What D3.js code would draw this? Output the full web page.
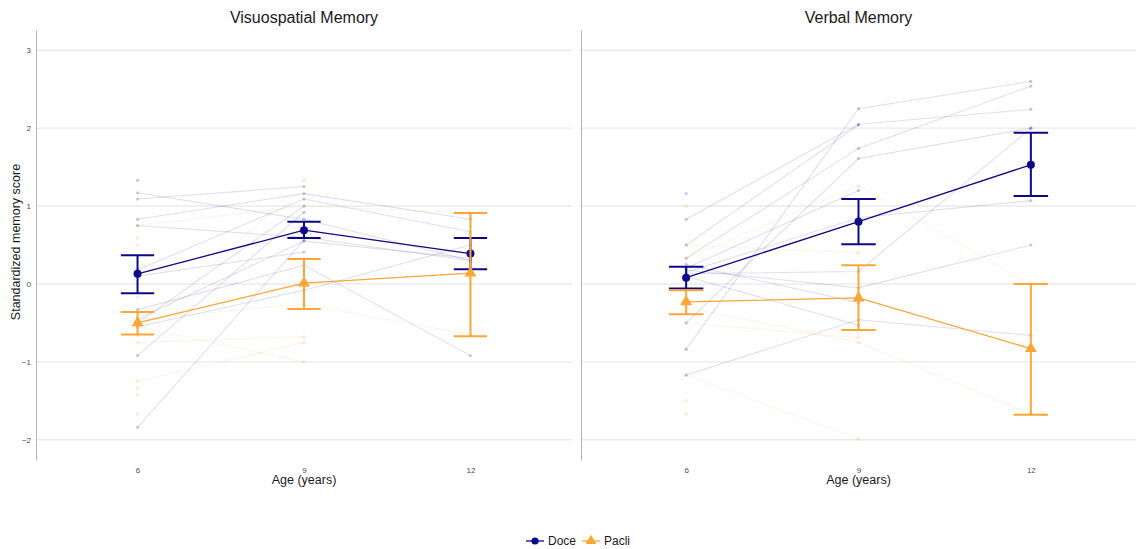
<!DOCTYPE html>
<meta charset="utf-8">
<html>
  <style>
    body { margin: 0; background: #fff; }
    text { font-family: "Liberation Sans", Arial, sans-serif; }
    .grid line { stroke: #ebebeb; stroke-width: 1.4px; }
  </style>
  <head>
    <script src="https://d3js.org/d3.v7.min.js"></script>
  </head>
  <body>
    <script>
      // ages and panel titles
      var ages = [6, 9, 12];
      var panelTitles = ["Visuospatial Memory", "Verbal Memory"];
      var yTicks = [-2, -1, 0, 1, 2, 3];
      var groups = ["Doce", "Pacli"];

      // individual subjects, value at 6, 9, 12 (null = missing)
      var visDoce = [
        [1.33, null, null], [1.17, 0.83, 0.3], [1.09, 1.25, null], [0.83, 1.16, 0.83],
        [0.75, 0.6, 0.3], [0.18, 1.09, 0.67], [0.1, 0.41, null], [-0.33, 0.24, -0.92],
        [-0.5, 1.0, null], [-0.45, 0.55, 0.33], [-0.55, -0.08, 0.5], [-0.92, 0.92, null],
        [-1.84, 0.56, null]
      ];
      var visPacli = [
        [0.59, null, null], [0.5, null, null], [0.75, 1.0, 0.91], [-0.17, null, null],
        [-0.45, -0.26, -0.65], [-0.66, 1.33, null], [-0.75, -0.68, null], [-0.55, -1.0, null],
        [-1.25, -0.75, null], [-1.34, null, null], [-1.42, null, null], [-1.67, null, null]
      ];
      var verbDoce = [
        [1.16, null, null], [0.83, 2.05, 2.24], [0.5, 2.04, null], [0.33, 1.74, 2.54],
        [-0.84, 2.25, 2.6], [-0.5, 1.61, 2.0], [0.2, 1.2, null], [0.15, 0.85, 1.07],
        [0.13, 0.16, 2.0], [0.18, -0.05, 0.5], [0.1, -0.53, null], [-1.17, -0.46, -0.66],
        [0.25, -0.24, null]
      ];
      var verbPacli = [
        [1.0, null, null], [0.5, 0.4, null], [0.33, 1.26, 0.0], [-0.3, -0.75, -1.67],
        [-1.17, -1.99, null], [-0.5, -0.69, null], [-0.84, null, null], [-1.5, null, null],
        [-1.67, null, null]
      ];

      // group means and error bar limits
      var visDoceMean = [0.13, 0.69, 0.39], visDoceLow = [-0.12, 0.59, 0.19], visDoceHigh = [0.37, 0.80, 0.59];
      var visPacliMean = [-0.5, 0.01, 0.14], visPacliLow = [-0.65, -0.32, -0.67], visPacliHigh = [-0.36, 0.32, 0.91];
      var verbDoceMean = [0.08, 0.8, 1.53], verbDoceLow = [-0.06, 0.51, 1.13], verbDoceHigh = [0.22, 1.09, 1.94];
      var verbPacliMean = [-0.23, -0.18, -0.83], verbPacliLow = [-0.39, -0.59, -1.68], verbPacliHigh = [-0.08, 0.24, 0.0];

      var colors = {Doce: "#0d0887", Pacli: "#fca636"};

      var width = 1138, height = 549;
      var svg = d3.select("body").append("svg")
          .attr("width", width)
          .attr("height", height);

      var y = d3.scaleLinear().domain([-2.26, 3.26]).range([460, 30]);
      var ranges = [[36, 572], [581, 1136]];

      var panels = [
        {title: panelTitles[0], subj: {Doce: visDoce, Pacli: visPacli},
         mean: {Doce: visDoceMean, Pacli: visPacliMean}, low: {Doce: visDoceLow, Pacli: visPacliLow},
         high: {Doce: visDoceHigh, Pacli: visPacliHigh}},
        {title: panelTitles[1], subj: {Doce: verbDoce, Pacli: verbPacli},
         mean: {Doce: verbDoceMean, Pacli: verbPacliMean}, low: {Doce: verbDoceLow, Pacli: verbPacliLow},
         high: {Doce: verbDoceHigh, Pacli: verbPacliHigh}}
      ];

      var tri = d3.symbol().type(d3.symbolTriangle);

      panels.forEach(function(p, i) {
        var x = d3.scaleLinear().domain([4.17, 13.83]).range(ranges[i]);
        var g = svg.append("g");

        // gridlines
        g.append("g").attr("class", "grid")
          .selectAll("line").data(yTicks).enter().append("line")
          .attr("x1", ranges[i][0]).attr("x2", ranges[i][1])
          .attr("y1", function(d) { return y(d); })
          .attr("y2", function(d) { return y(d); });

        // y axis
        var yAxis = g.append("g")
          .attr("transform", "translate(" + ranges[i][0] + ",0)")
          .call(d3.axisLeft(y).tickValues(yTicks).tickSizeInner(0).tickSizeOuter(0).tickPadding(5)
                .tickFormat(i == 0 ? d3.format("d") : function() { return ""; }));
        yAxis.select(".domain").attr("stroke", "#b3b3b3");
        yAxis.selectAll("text").attr("font-size", 8).attr("fill", "#4d4d4d")
          .style("font-family", "Liberation Sans, Arial, sans-serif");

        // x axis
        var xAxis = g.append("g")
          .attr("transform", "translate(0,462)")
          .call(d3.axisBottom(x).tickValues(ages).tickSize(0).tickPadding(5));
        xAxis.select(".domain").remove();
        xAxis.selectAll("text").attr("font-size", 8).attr("fill", "#4d4d4d")
          .style("font-family", "Liberation Sans, Arial, sans-serif");

        // titles
        var cx = (ranges[i][0] + ranges[i][1]) / 2;
        g.append("text").attr("x", cx).attr("y", 23).attr("text-anchor", "middle")
          .attr("font-size", 16).attr("fill", "#1a1a1a").text(p.title);
        g.append("text").attr("x", cx).attr("y", 484).attr("text-anchor", "middle")
          .attr("font-size", 12.5).attr("fill", "#1a1a1a").text("Age (years)");

        var line = d3.line()
          .defined(function(d) { return d.v !== null; })
          .x(function(d) { return x(d.age); })
          .y(function(d) { return y(d.v); });

        // individual trajectories
        groups.forEach(function(gr) {
          p.subj[gr].forEach(function(s) {
            var pts = s.map(function(v, k) { return {age: ages[k], v: v}; });
            g.append("path").datum(pts)
              .attr("d", line)
              .attr("fill", "none")
              .attr("stroke", colors[gr])
              .attr("stroke-opacity", gr == "Doce" ? 0.13 : 0.12)
              .attr("stroke-width", 1.1);
            pts.filter(function(d) { return d.v !== null; }).forEach(function(d) {
              if (gr == "Doce") {
                g.append("circle").attr("cx", x(d.age)).attr("cy", y(d.v)).attr("r", 1.6)
                  .attr("fill", colors[gr]).attr("fill-opacity", 0.22);
              } else {
                g.append("path").attr("d", tri.size(10)())
                  .attr("transform", "translate(" + x(d.age) + "," + y(d.v) + ")")
                  .attr("fill", colors[gr]).attr("fill-opacity", 0.22);
              }
            });
          });
        });

        // means with error bars
        var capW = x(0.3) - x(0);
        groups.forEach(function(gr) {
          var pts = ages.map(function(a, k) { return {age: a, v: p.mean[gr][k], lo: p.low[gr][k], hi: p.high[gr][k]}; });
          g.append("path").datum(pts)
            .attr("d", line).attr("fill", "none")
            .attr("stroke", colors[gr]).attr("stroke-width", 1.3);
          pts.forEach(function(d) {
            var eg = g.append("g").attr("stroke", colors[gr]).attr("stroke-width", 2);
            eg.append("line").attr("x1", x(d.age)).attr("x2", x(d.age)).attr("y1", y(d.lo)).attr("y2", y(d.hi));
            eg.append("line").attr("x1", x(d.age) - capW).attr("x2", x(d.age) + capW).attr("y1", y(d.lo)).attr("y2", y(d.lo));
            eg.append("line").attr("x1", x(d.age) - capW).attr("x2", x(d.age) + capW).attr("y1", y(d.hi)).attr("y2", y(d.hi));
          });
          pts.forEach(function(d) {
            if (gr == "Doce") {
              g.append("circle").attr("cx", x(d.age)).attr("cy", y(d.v)).attr("r", 4).attr("fill", colors[gr]);
            } else {
              g.append("path").attr("d", tri.size(62)())
                .attr("transform", "translate(" + x(d.age) + "," + y(d.v) + ")")
                .attr("fill", colors[gr]);
            }
          });
        });
      });

      // y axis title
      svg.append("text")
        .attr("text-anchor", "middle")
        .attr("transform", "translate(20,242)rotate(-90)")
        .attr("font-size", 12.5).attr("fill", "#1a1a1a")
        .text("Standardized memory score");

      // legend
      var legend = svg.append("g").attr("transform", "translate(0,541)");
      var keys = [{name: "Doce", x: 526}, {name: "Pacli", x: 582}];
      keys.forEach(function(k) {
        legend.append("line").attr("x1", k.x).attr("x2", k.x + 18).attr("y1", 0).attr("y2", 0)
          .attr("stroke", colors[k.name]).attr("stroke-width", 1.3);
        if (k.name == "Doce") {
          legend.append("circle").attr("cx", k.x + 9).attr("cy", 0).attr("r", 3.6).attr("fill", colors[k.name]);
        } else {
          legend.append("path").attr("d", tri.size(50)()).attr("transform", "translate(" + (k.x + 9) + ",0)")
            .attr("fill", colors[k.name]);
        }
        legend.append("text").attr("x", k.x + 22).attr("y", 4).attr("font-size", 12)
          .attr("fill", "#1a1a1a").text(k.name);
      });
    </script>
  </body>
</html>
